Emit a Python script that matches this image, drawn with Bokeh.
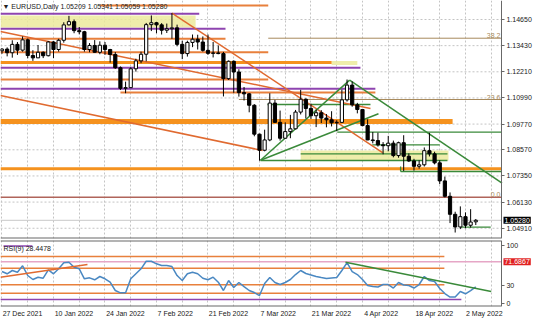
from bokeh.plotting import figure
from bokeh.layouts import column
from bokeh.models import FixedTicker, PrintfTickFormatter, Label, Range1d, LinearAxis
from bokeh.embed import file_html
from bokeh.resources import INLINE

# ---------------- data ----------------
symbol = "EURUSD"
timeframe = "Daily"
date_labels = ["27 Dec 2021", "10 Jan 2022", "24 Jan 2022", "7 Feb 2022", "21 Feb 2022",
               "7 Mar 2022", "21 Mar 2022", "4 Apr 2022", "18 Apr 2022", "2 May 2022"]
date_label_bars = [0, 10, 20, 30, 40, 50, 60, 70, 80, 90]

opens = [1.1319, 1.1327, 1.1310, 1.1349, 1.1322, 1.1370, 1.1297, 1.1286, 1.1312, 1.1296,
         1.1360, 1.1325, 1.1368, 1.1440, 1.1455, 1.1413, 1.1408, 1.1325, 1.1344, 1.1312,
         1.1345, 1.1325, 1.1302, 1.1240, 1.1144, 1.1147, 1.1235, 1.1272, 1.1303, 1.1441,
         1.1450, 1.1440, 1.1415, 1.1422, 1.1426, 1.1349, 1.1306, 1.1358, 1.1373, 1.1360,
         1.1321, 1.1307, 1.1309, 1.1306, 1.1189, 1.1270, 1.1220, 1.1124, 1.1118, 1.1065,
         1.0930, 1.0855, 1.0903, 1.1075, 1.0985, 1.0911, 1.0942, 1.0955, 1.1033, 1.1093,
         1.1050, 1.1016, 1.1030, 1.1005, 1.0997, 1.0983, 1.0985, 1.1090, 1.1159, 1.1067,
         1.1045, 1.0970, 1.0903, 1.0900, 1.0880, 1.0876, 1.0888, 1.0830, 1.0890, 1.0827,
         1.0805, 1.0780, 1.0787, 1.0853, 1.0838, 1.0796, 1.0712, 1.0640, 1.0556, 1.0497,
         1.0545, 1.0505, 1.05209]
highs = [1.1331, 1.1335, 1.1368, 1.1360, 1.1386, 1.1376, 1.1322, 1.1346, 1.1316, 1.1364,
         1.1364, 1.1375, 1.1452, 1.1482, 1.1465, 1.1430, 1.1412, 1.1355, 1.1369, 1.1363,
         1.1360, 1.1328, 1.1313, 1.1246, 1.1175, 1.1242, 1.1282, 1.1315, 1.1449, 1.1484,
         1.1454, 1.1448, 1.1446, 1.1495, 1.1441, 1.1366, 1.1366, 1.1395, 1.1394, 1.1386,
         1.1395, 1.1360, 1.1344, 1.1314, 1.1274, 1.1274, 1.1233, 1.1150, 1.1122, 1.1070,
         1.0932, 1.0951, 1.1121, 1.1090, 1.1040, 1.0985, 1.1020, 1.1043, 1.1137, 1.1097,
         1.1072, 1.1045, 1.1042, 1.1024, 1.1037, 1.0995, 1.1138, 1.1185, 1.1176, 1.1076,
         1.1047, 1.0999, 1.0940, 1.0937, 1.0893, 1.0922, 1.0900, 1.0895, 1.0925, 1.0840,
         1.0815, 1.0808, 1.0868, 1.0936, 1.0848, 1.0808, 1.0732, 1.0658, 1.0568, 1.0593,
         1.0565, 1.0580, 1.05341]
lows = [1.1305, 1.1293, 1.1287, 1.1300, 1.1315, 1.1284, 1.1272, 1.1286, 1.1285, 1.1293,
        1.1285, 1.1315, 1.1357, 1.1437, 1.1401, 1.1396, 1.1315, 1.1312, 1.1310, 1.1303,
        1.1300, 1.1264, 1.1235, 1.1136, 1.1121, 1.1146, 1.1222, 1.1261, 1.1270, 1.1411,
        1.1401, 1.1395, 1.1402, 1.1375, 1.1340, 1.1280, 1.1292, 1.1336, 1.1325, 1.1315,
        1.1300, 1.1288, 1.1303, 1.1106, 1.1183, 1.1123, 1.1105, 1.1087, 1.1032, 1.0920,
        1.0806, 1.0850, 1.0897, 1.0983, 1.0900, 1.0910, 1.0911, 1.0953, 1.1022, 1.1003,
        1.1001, 1.0963, 1.0982, 1.0962, 1.0966, 1.0944, 1.0983, 1.1082, 1.1058, 1.1027,
        1.0967, 1.0902, 1.0887, 1.0872, 1.0836, 1.0850, 1.0822, 1.0820, 1.0758, 1.0800,
        1.0760, 1.0769, 1.0779, 1.0826, 1.0789, 1.0697, 1.0635, 1.0515, 1.0471, 1.0487,
        1.0491, 1.0494, 1.05059]
closes = [1.1327, 1.1310, 1.1349, 1.1322, 1.1370, 1.1297, 1.1286, 1.1312, 1.1296, 1.1360,
          1.1325, 1.1368, 1.1440, 1.1455, 1.1413, 1.1408, 1.1325, 1.1344, 1.1312, 1.1345,
          1.1325, 1.1302, 1.1240, 1.1144, 1.1147, 1.1235, 1.1272, 1.1303, 1.1441, 1.1450,
          1.1440, 1.1415, 1.1422, 1.1426, 1.1349, 1.1306, 1.1358, 1.1373, 1.1360, 1.1321,
          1.1307, 1.1309, 1.1306, 1.1189, 1.1270, 1.1220, 1.1124, 1.1118, 1.1065, 1.0930,
          1.0855, 1.0903, 1.1075, 1.0985, 1.0911, 1.0942, 1.0955, 1.1033, 1.1093, 1.1050,
          1.1016, 1.1030, 1.1005, 1.0997, 1.0983, 1.0985, 1.1090, 1.1159, 1.1067, 1.1045,
          1.0970, 1.0903, 1.0900, 1.0880, 1.0876, 1.0888, 1.0830, 1.0890, 1.0827, 1.0805,
          1.0780, 1.0787, 1.0853, 1.0838, 1.0796, 1.0712, 1.0640, 1.0556, 1.0497, 1.0545,
          1.0505, 1.0520, 1.05280]

rsi_period = 9
rsi = [54.9, 51.0, 56.7, 53.7, 64.8, 48.0, 41.1, 45.1, 43.3, 57.9,
       51.0, 59.6, 70.0, 71.1, 62.4, 59.6, 42.3, 44.0, 40.6, 46.3,
       42.3, 36.4, 22.0, 18.0, 18.0, 42.3, 51.0, 59.6, 72.8, 72.8,
       68.3, 65.3, 65.3, 63.6, 48.0, 39.3, 51.0, 53.7, 51.0, 43.3,
       40.6, 45.1, 36.4, 22.0, 39.3, 27.2, 35.9, 28.9, 22.0, 18.5,
       13.3, 34.1, 44.5, 35.9, 32.4, 35.9, 41.1, 49.7, 56.7, 51.5,
       48.9, 46.3, 44.5, 42.8, 43.7, 44.5, 56.7, 70.5, 54.9, 49.7,
       41.1, 30.7, 28.9, 28.1, 32.4, 32.4, 26.3, 35.9, 31.5, 30.7,
       26.3, 32.4, 46.3, 39.3, 37.6, 25.5, 16.8, 10.7, 10.7, 20.3,
       16.3, 22.0, 28.4478]

price_ticks = [1.14650, 1.13430, 1.12210, 1.10990, 1.09770, 1.08570, 1.07350, 1.06130, 1.04910]
rsi_ticks = [0, 30, 100]
rsi_marked_level = 71.6867

# drawn objects: (price, start bar, end bar)
orange_levels = [(1.15303, 19.0, 51.7), (1.13749, -0.3, 43.4), (1.13124, -0.3, 51.7),
                 (1.11850, -0.3, 51.7), (1.11244, 23.0, 72.5)]
purple_levels = [(1.14916, -0.3, 38.3), (1.14216, -0.3, 43.4), (1.12396, -0.3, 69.6),
                 (1.11416, -0.3, 72.5)]
bold_orange_levels = [(1.12643, -0.3, 64.0), (1.07683, -0.3, 97.0)]
heavy_orange_levels = [(1.09890, -0.3, 87.5)]
green_levels = [(1.10684, 51.55, 71.55), (1.09391, 65.1, 97.0), (1.08803, 71.9, 85.0),
                (1.08383, 58.0, 86.5), (1.08070, 50.2, 86.5), (1.07557, 77.4, 97.0),
                (1.04958, 89.0, 94.9)]
green_ticks = [(77.4, 1.0779, 1.07557)]
yellow_zones = [(-0.3, 37.6, 1.14277, 1.14837), (64.0, 69.0, 1.12527, 1.12713),
                (58.0, 86.7, 1.08070, 1.08537)]
fib_levels = [("38.2", 1.13777, 51.7), ("23.6", 1.10917, 46.0), ("0.0", 1.06358, -0.3)]
orange_trends = [((33.0, 1.1495), (73.9, 1.08444)), ((-0.3, 1.14090), (71.55, 1.10497)),
                 ((-0.3, 1.11104), (50.6, 1.08537))]
green_trends = [((50.2, 1.0808), (67.5, 1.1182)), ((50.2, 1.0808), (73.1, 1.1025)),
                ((67.5, 1.1182), (97.1, 1.07011))]

rsi_orange_levels = [(81.0, -0.3, 85.9), (60.7, -0.3, 85.9), (31.9, -0.3, 85.9), (17.3, -0.3, 85.9)]
rsi_purple_levels = [(6.4, -0.3, 89.2), (99.0, 0.3, 5.9)]
rsi_orange_trend = ((-0.3, 45.0), (16.6, 67.0))
rsi_green_trend = ((66.7, 71.0), (95.0, 20.3))

# ---------------- styling ----------------
FONT = "Liberation Sans"
FS = "7px"
C_OR = "#e8803c"
C_OR_BOLD = "#f5921e"
C_PUR = "#8e44b0"
C_GRN = "#3a8a3a"
C_YEL = "#ecea9c"
C_FIB = "#a88a5c"
C_FIB0 = "#b0645a"
C_GRID = "#c4c4c4"
C_FRAME = "#686868"

n = len(closes)
bars = list(range(n))
X0 = -0.29          # left edge of chart
X_EDGE = 96.99      # price-scale edge
X1 = 103.79         # right edge of the window
xr = Range1d(X0, X1)
P_LO, P_HI = 1.04431, 1.15537
R_LO, R_HI = -5.7, 108.7

p = figure(frame_width=536, frame_height=238, x_range=xr, y_range=(P_LO, P_HI),
           toolbar_location=None, output_backend="svg", x_axis_location=None,
           y_axis_location=None, min_border_left=0, min_border_right=0,
           min_border_top=0, min_border_bottom=1, background_fill_color="white",
           border_fill_color="white", outline_line_color=None)
p.xgrid.ticker = FixedTicker(ticks=list(range(0, 96, 5)))
p.xgrid.grid_line_color = C_GRID
p.xgrid.grid_line_dash = "2 2"
p.ygrid.grid_line_color = None
# horizontal grid (stops at the price scale)
p.segment(x0=X0, y0=price_ticks, x1=X_EDGE, y1=price_ticks, line_color=C_GRID, line_dash="2 2", line_width=1)

ax = LinearAxis(fixed_location=X_EDGE)
ax.ticker = FixedTicker(ticks=price_ticks)
ax.formatter = PrintfTickFormatter(format="%.5f")
ax.major_label_text_font = FONT
ax.major_label_text_font_size = FS
ax.major_label_text_color = "#202020"
ax.axis_line_color = C_FRAME
ax.major_tick_line_color = C_FRAME
ax.major_tick_out = 3
ax.major_tick_in = 0
ax.minor_tick_out = 0
ax.minor_tick_in = 0
ax.major_label_standoff = 2
p.add_layout(ax, "right")

# zones
for (b0, b1, lo, hi) in yellow_zones:
    p.quad(left=b0, right=b1, bottom=lo, top=hi, fill_color=C_YEL, fill_alpha=0.85, line_color=None)

# fib levels
for (name, lvl, b0) in fib_levels:
    col = C_FIB0 if name == "0.0" else C_FIB
    p.segment(x0=b0, y0=lvl, x1=X_EDGE, y1=lvl, line_color=col, line_width=1.5 if name == "0.0" else 1)
    p.add_layout(Label(x=X_EDGE, y=lvl, text=name, text_align="right", text_baseline="bottom",
                       text_font=FONT, text_font_size=FS, text_color=C_FIB, x_offset=-1))

# current price line
p.segment(x0=X0, y0=closes[-1], x1=X_EDGE, y1=closes[-1], line_color="#c8c8c8", line_width=1)

def hsegs(levels, color, width):
    p.segment(x0=[l[1] for l in levels], y0=[l[0] for l in levels],
              x1=[l[2] for l in levels], y1=[l[0] for l in levels],
              line_color=color, line_width=width)

hsegs(heavy_orange_levels, C_OR_BOLD, 5)
hsegs(bold_orange_levels, C_OR_BOLD, 3)
hsegs(orange_levels, C_OR, 2)
hsegs(purple_levels, C_PUR, 2)
hsegs(green_levels, C_GRN, 1.3)
p.segment(x0=[g[0] for g in green_ticks], y0=[g[1] for g in green_ticks],
          x1=[g[0] for g in green_ticks], y1=[g[2] for g in green_ticks], line_color=C_GRN, line_width=1.3)

for (a, b) in orange_trends:
    p.segment(x0=a[0], y0=a[1], x1=b[0], y1=b[1], line_color="#e06a30", line_width=1.5)
for (a, b) in green_trends:
    p.segment(x0=a[0], y0=a[1], x1=b[0], y1=b[1], line_color=C_GRN, line_width=1.5)

# candles
up = [c >= o for o, c in zip(opens, closes)]
p.segment(x0=bars, y0=lows, x1=bars, y1=highs, line_color="black", line_width=1)
tops = [max(o, c) for o, c in zip(opens, closes)]
bots = [min(o, c) for o, c in zip(opens, closes)]
fills = ["white" if u else "black" for u in up]
p.vbar(x=bars, width=0.62, top=tops, bottom=bots, fill_color=fills, line_color="black", line_width=1)

# bottom frame line of price window
p.segment(x0=X0, y0=P_LO, x1=X_EDGE, y1=P_LO, line_color=C_FRAME, line_width=2)

# header
p.add_layout(Label(x=2, y=236, x_units="screen", y_units="screen",
                   text="\u25bc %s,%s %.5f %.5f %.5f %.5f" % (symbol, timeframe, opens[-1], highs[-1], lows[-1], closes[-1]),
                   text_font=FONT, text_font_size=FS, text_color="#202020", text_baseline="top"))
# current price box
p.add_layout(Label(x=X_EDGE, y=closes[-1], x_offset=2, text="%.5f" % closes[-1], text_font=FONT,
                   text_font_size=FS, text_color="white", background_fill_color="black",
                   text_baseline="middle", text_align="left", padding=1))

# ---------------- RSI panel ----------------
r = figure(frame_width=536, frame_height=66, x_range=xr, y_range=(R_LO, R_HI),
           toolbar_location=None, output_backend="svg", y_axis_location=None,
           min_border_left=0, min_border_right=0, min_border_top=1, min_border_bottom=16,
           background_fill_color="white", border_fill_color="white", outline_line_color=None)
r.xgrid.ticker = FixedTicker(ticks=list(range(0, 96, 5)))
r.xgrid.grid_line_color = C_GRID
r.xgrid.grid_line_dash = "2 2"
r.ygrid.grid_line_color = None

ry = LinearAxis(fixed_location=X_EDGE)
ry.ticker = FixedTicker(ticks=rsi_ticks)
ry.major_label_text_font = FONT
ry.major_label_text_font_size = FS
ry.major_label_text_color = "#202020"
ry.axis_line_color = C_FRAME
ry.major_tick_line_color = C_FRAME
ry.major_tick_out = 3
ry.major_tick_in = 0
ry.minor_tick_out = 0
ry.minor_tick_in = 0
ry.major_label_standoff = 2
r.add_layout(ry, "right")

# date labels: MT4 prints them starting at the bar, so centre each text to the right of its bar
label_ticks = [b + 0.35 + 0.33 * len(t) for b, t in zip(date_label_bars, date_labels)]
rx = r.xaxis[0]
rx.ticker = FixedTicker(ticks=label_ticks)
rx.major_label_overrides = {t: s for t, s in zip(label_ticks, date_labels)}
rx.major_label_text_font = FONT
rx.major_label_text_font_size = FS
rx.major_label_text_color = "#202020"
rx.axis_line_color = None
rx.major_tick_line_color = None
rx.major_tick_out = 0
rx.major_tick_in = 0
rx.minor_tick_out = 0
rx.minor_tick_in = 0
rx.major_label_standoff = 3

r.segment(x0=X0, y0=rsi_marked_level, x1=X_EDGE, y1=rsi_marked_level, line_color="#e6a6c6", line_width=1.5)
r.segment(x0=[l[1] for l in rsi_orange_levels], y0=[l[0] for l in rsi_orange_levels],
          x1=[l[2] for l in rsi_orange_levels], y1=[l[0] for l in rsi_orange_levels],
          line_color=C_OR, line_width=1.5)
r.segment(x0=[l[1] for l in rsi_purple_levels], y0=[l[0] for l in rsi_purple_levels],
          x1=[l[2] for l in rsi_purple_levels], y1=[l[0] for l in rsi_purple_levels],
          line_color=C_PUR, line_width=1.5)
r.line(x=bars, y=rsi, line_color="#4a88c2", line_width=1.5)
r.segment(x0=rsi_orange_trend[0][0], y0=rsi_orange_trend[0][1], x1=rsi_orange_trend[1][0],
          y1=rsi_orange_trend[1][1], line_color="#e06a30", line_width=1.5)
r.segment(x0=rsi_green_trend[0][0], y0=rsi_green_trend[0][1], x1=rsi_green_trend[1][0],
          y1=rsi_green_trend[1][1], line_color=C_GRN, line_width=1.5)
# window frame lines
r.segment(x0=[X0, X0], y0=[R_HI, R_LO], x1=[X_EDGE, X_EDGE], y1=[R_HI, R_LO], line_color=C_FRAME, line_width=2)

r.add_layout(Label(x=3, y=62, x_units="screen", y_units="screen",
                   text="RSI(%d) %.4f" % (rsi_period, rsi[-1]), text_font=FONT, text_font_size=FS,
                   text_color="#202020", text_baseline="top"))
r.add_layout(Label(x=X_EDGE, y=rsi_marked_level, x_offset=2, text="%.4f" % rsi_marked_level,
                   text_font=FONT, text_font_size=FS, text_color="white",
                   background_fill_color="#e02020", text_baseline="middle", text_align="left", padding=1))

layout = column(p, r, spacing=0)
open("out.html", "w").write(file_html(layout, INLINE))
